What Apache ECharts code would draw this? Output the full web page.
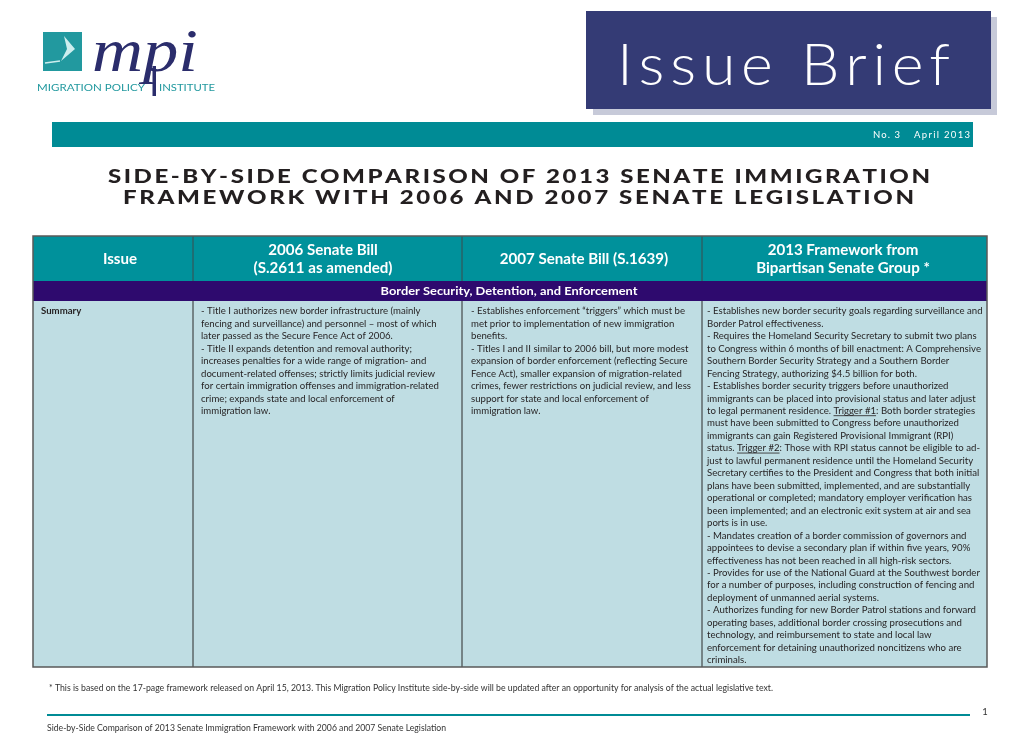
<!DOCTYPE html>
<html>
<head>
<meta charset="utf-8">
<script src="https://cdn.jsdelivr.net/npm/echarts@6/dist/echarts.min.js"></script>
<style>
html,body{margin:0;padding:0;background:#fff;}
#main{width:1020px;height:748px;}
</style>
</head>
<body>
<div id="main"></div>
<script>
// ---------- content ----------
const logoWord = 'mpi';
const logoLeft = 'MIGRATION POLICY';
const logoRight = 'INSTITUTE';
const briefTitle = 'Issue Brief';
const briefNumber = 'No. 3';
const briefDate = 'April 2013';
const titleLines = [
  'SIDE-BY-SIDE COMPARISON OF 2013 SENATE IMMIGRATION',
  'FRAMEWORK WITH 2006 AND 2007 SENATE LEGISLATION'
];
const headerCols = [
  ['Issue'],
  ['2006 Senate Bill', '(S.2611 as amended)'],
  ['2007 Senate Bill (S.1639)'],
  ['2013 Framework from', 'Bipartisan Senate Group *']
];
const sectionTitle = 'Border Security, Detention, and Enforcement';
const rowLabel = 'Summary';
const col2006 = [
  '- Title I authorizes new border infrastructure (mainly',
  'fencing and surveillance) and personnel \u2013 most of which',
  'later passed as the Secure Fence Act of 2006.',
  '- Title II expands detention and removal authority;',
  'increases penalties for a wide range of migration- and',
  'document-related offenses; strictly limits judicial review',
  'for certain immigration offenses and immigration-related',
  'crime; expands state and local enforcement of',
  'immigration law.'
];
const col2007 = [
  '- Establishes enforcement \u201ctriggers\u201d which must be',
  'met prior to implementation of new immigration',
  'benefits.',
  '- Titles I and II similar to 2006 bill, but more modest',
  'expansion of border enforcement (reflecting Secure',
  'Fence Act), smaller expansion of migration-related',
  'crimes, fewer restrictions on judicial review, and less',
  'support for state and local enforcement of',
  'immigration law.'
];
const col2013 = [
  '- Establishes new border security goals regarding surveillance and',
  'Border Patrol effectiveness.',
  '- Requires the Homeland Security Secretary to submit two plans',
  'to Congress within 6 months of bill enactment: A Comprehensive',
  'Southern Border Security Strategy and a Southern Border',
  'Fencing Strategy, authorizing $4.5 billion for both.',
  '- Establishes border security triggers before unauthorized',
  'immigrants can be placed into provisional status and later adjust',
  'to legal permanent residence. Trigger #1: Both border strategies',
  'must have been submitted to Congress before unauthorized',
  'immigrants can gain Registered Provisional Immigrant (RPI)',
  'status. Trigger #2: Those with RPI status cannot be eligible to ad-',
  'just to lawful permanent residence until the Homeland Security',
  'Secretary certifies to the President and Congress that both initial',
  'plans have been submitted, implemented, and are substantially',
  'operational or completed; mandatory employer verification has',
  'been implemented; and an electronic exit system at air and sea',
  'ports is in use.',
  '- Mandates creation of a border commission of governors and',
  'appointees to devise a secondary plan if within five years, 90%',
  'effectiveness has not been reached in all high-risk sectors.',
  '- Provides for use of the National Guard at the Southwest border',
  'for a number of purposes, including construction of fencing and',
  'deployment of unmanned aerial systems.',
  '- Authorizes funding for new Border Patrol stations and forward',
  'operating bases, additional border crossing prosecutions and',
  'technology, and reimbursement to state and local law',
  'enforcement for detaining unauthorized noncitizens who are',
  'criminals.'
];
const underlined = ['Trigger #1', 'Trigger #2'];
const footnote = '* This is based on the 17-page framework released on April 15, 2013. This Migration Policy Institute side-by-side will be updated after an opportunity for analysis of the actual legislative text.';
const footerText = 'Side-by-Side Comparison of 2013 Senate Immigration Framework with 2006 and 2007 Senate Legislation';
const pageNumber = '1';

// ---------- layout & style ----------
const C = {
  navy: '#343b75', shadow: '#c7cad9', teal: '#008b95', headTeal: '#00919b',
  purple: '#2e0a6e', body: '#bfdde3', border: '#4a4a4a', ink: '#231f20',
  logoTeal: '#22999f', logoNavy: '#2b2d6c'
};
const colX = [33, 193, 462, 702, 987];
const tableTop = 236, headBottom = 281, bandBottom = 301, tableBottom = 667;
const sans = 'Lato';

const mctx = document.createElement('canvas').getContext('2d');
function fontStr(f) { return (f.style || 'normal') + ' ' + (f.weight || 'normal') + ' ' + f.size + 'px ' + f.family; }
function tw(s, f) { mctx.font = fontStr(f); return mctx.measureText(s).width; }

const els = [];
function rect(x, y, w, h, fill, extra) {
  els.push(Object.assign({ type: 'rect', silent: true, shape: { x, y, width: w, height: h }, style: { fill } }, extra || {}));
}
function line(x1, y1, x2, y2, stroke, lw) {
  els.push({ type: 'line', silent: true, shape: { x1, y1, x2, y2 }, style: { stroke, lineWidth: lw } });
}
function text(str, x, y, f, align, sx) {
  els.push({
    type: 'text', silent: true, x, y, scaleX: sx || 1, z: 10,
    style: {
      text: str, fontSize: f.size, fontFamily: f.family, fontWeight: f.weight || 'normal',
      fontStyle: f.style || 'normal', fill: f.color, align: align || 'left', verticalAlign: 'middle',
      textAlign: align || 'left', textVerticalAlign: 'middle'
    }
  });
}
function fitText(str, x, y, targetW, f, align) {
  text(str, x, y, f, align, targetW / tw(str, f));
}
function spacedFit(str, x1, x2, y, f, sx) {
  sx = sx || 1;
  const chars = Array.from(str);
  const ws = chars.map(c => tw(c, f) * sx);
  const total = ws.reduce((a, b) => a + b, 0);
  const gap = (x2 - x1 - total) / (chars.length - 1);
  let x = x1;
  chars.forEach((c, i) => { if (c !== ' ') text(c, x, y, f, 'left', sx); x += ws[i] + gap; });
}

// ---------- logo ----------
rect(43, 32, 39, 39, C.logoTeal);
els.push({ type: 'polygon', silent: true, shape: { points: [[64, 36], [75, 49], [61, 61], [67, 49]] }, style: { fill: '#cdeeee' } });
els.push({ type: 'polyline', silent: true, shape: { points: [[45, 63], [60, 61]] }, style: { stroke: '#cdeeee', lineWidth: 1.5 } });
const mpiFont = { size: 62, family: "'Liberation Serif'", style: 'italic', color: C.logoNavy };
fitText(logoWord, 92, 55, 106, mpiFont, 'left');
rect(152.5, 66, 3.5, 30, C.logoNavy);
const logoSmall = { size: 10, family: sans, color: C.logoTeal };
fitText(logoLeft, 37, 88, 108, logoSmall, 'left');
fitText(logoRight, 159, 88, 56, logoSmall, 'left');

// ---------- Issue Brief box ----------
rect(593, 17, 404, 98, C.shadow);
rect(586, 11, 405, 98, C.navy);
spacedFit(briefTitle, 617, 950, 66, { size: 58, family: sans, weight: 300, color: '#ffffff' }, 1.05);
rect(52, 122, 921, 25, C.teal);
const smallWhite = { size: 9.5, family: sans, color: '#ffffff' };
spacedFit(briefNumber, 873, 900, 135, smallWhite);
spacedFit(briefDate, 914, 970, 135, smallWhite);

// ---------- title ----------
const titleFont = { size: 18.5, family: sans, weight: 900, color: C.ink };
spacedFit(titleLines[0], 108, 930, 177, titleFont, 1.3);
spacedFit(titleLines[1], 123, 914, 198, titleFont, 1.3);

// ---------- table ----------
rect(colX[0], tableTop, colX[4] - colX[0], headBottom - tableTop, C.headTeal);
rect(colX[0], headBottom, colX[4] - colX[0], bandBottom - headBottom, C.purple);
rect(colX[0], bandBottom, colX[4] - colX[0], tableBottom - bandBottom, C.body);
for (let i = 1; i < 4; i++) {
  line(colX[i], tableTop, colX[i], headBottom, '#3d4a4c', 1);
  line(colX[i], bandBottom, colX[i], tableBottom, '#2a2a2a', 1);
}
els.push({ type: 'rect', silent: true, z: 5, shape: { x: colX[0], y: tableTop, width: colX[4] - colX[0], height: tableBottom - tableTop }, style: { fill: 'none', stroke: '#5a5a5a', lineWidth: 1.5 } });

const headFont = { size: 14.5, family: sans, weight: 'bold', color: '#ffffff' };
const headScale = 139 / tw('(S.2611 as amended)', headFont);
const headCenters = [120, 323, 584, 843];
headerCols.forEach((lines, i) => {
  if (lines.length === 1) text(lines[0], headCenters[i], 259, headFont, 'center', headScale);
  else {
    text(lines[0], headCenters[i], 250.5, headFont, 'center', headScale);
    text(lines[1], headCenters[i], 268.5, headFont, 'center', headScale);
  }
});
const bandFont = { size: 12, family: sans, weight: 'bold', color: '#ffffff' };
fitText(sectionTitle, 509, 291.5, 257, bandFont, 'center');

const bodyFont = { size: 10.3, family: sans, color: C.ink };
const bodyScale = 214 / tw(col2007[0], bodyFont);
const lineY0 = 311, lineStep = 12.46;
text(rowLabel, 41, lineY0, Object.assign({}, bodyFont, { weight: 'bold' }), 'left', bodyScale);
[[col2006, 201], [col2007, 471], [col2013, 707]].forEach(([lines, x]) => {
  lines.forEach((s, j) => {
    const y = lineY0 + j * lineStep;
    text(s, x, y, bodyFont, 'left', bodyScale);
    underlined.forEach(u => {
      const k = s.indexOf(u);
      if (k >= 0) {
        const x1 = x + tw(s.slice(0, k), bodyFont) * bodyScale;
        const x2 = x1 + tw(u, bodyFont) * bodyScale;
        line(x1, y + 5, x2, y + 5, C.ink, 0.8);
      }
    });
  });
});

// ---------- footnote & footer ----------
fitText(footnote, 49, 688, 724, { size: 9, family: sans, color: '#333333' }, 'left');
line(47, 715, 970, 715, C.teal, 2);
text(pageNumber, 985, 712, { size: 9.5, family: sans, color: '#333333' }, 'center');
fitText(footerText, 47, 728.5, 399, { size: 8.5, family: sans, color: '#333333' }, 'left');

const chart = echarts.init(document.getElementById('main'), null, { renderer: 'canvas' });
chart.setOption({ backgroundColor: '#ffffff', animation: false, graphic: { elements: els } });
</script>
</body>
</html>
